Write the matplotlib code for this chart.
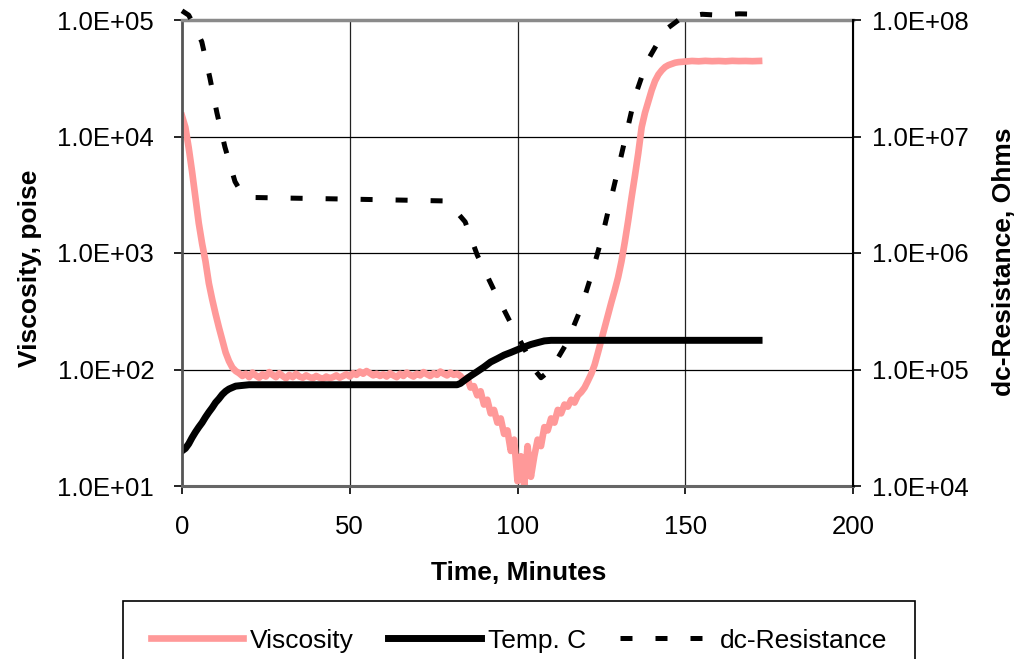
import numpy as np
import matplotlib.pyplot as plt
from matplotlib.ticker import FixedLocator, NullLocator

plt.rcParams['font.family'] = ['Liberation Sans', 'DejaVu Sans']

# --- data ---
visc_t = [0, 1, 2, 3, 4, 5, 6, 7, 8, 9, 10, 11, 12, 13, 14, 15, 16, 17,
          18, 19, 20, 21, 22, 23, 24, 25, 26, 27, 28, 29, 30, 31, 32, 33, 34, 35,
          36, 37, 38, 39, 40, 41, 42, 43, 44, 45, 46, 47, 48, 49, 50, 51, 52, 53,
          54, 55, 56, 57, 58, 59, 60, 61, 62, 63, 64, 65, 66, 67, 68, 69, 70, 71,
          72, 73, 74, 75, 76, 77, 78, 79, 80, 81, 82, 83, 84, 85, 86, 87, 88, 89,
          90, 91, 92, 93, 94, 95, 96, 97, 98, 99, 100, 101, 102, 103, 104, 105,
          106, 107, 108, 109, 110, 111, 112, 113, 114, 115, 116, 117, 118, 119,
          120, 121, 122, 123, 124, 125, 126, 127, 128, 129, 130, 131, 132, 133,
          134, 135, 136, 137, 138, 139, 140, 141, 142, 143, 144, 145, 146, 147,
          148, 150, 152, 154, 156, 158, 160, 162, 164, 166, 168, 170, 172]
visc_v = [15000, 12000, 8000, 5000, 3000, 1800, 1200, 850, 550, 400, 300, 230, 180, 140, 118, 104, 97, 93,
          88, 92, 86, 94, 89, 85, 91, 87, 95, 90, 86, 93, 88, 84, 90, 86, 92, 87,
          85, 89, 86, 84, 88, 85, 83, 87, 84, 86, 89, 85, 88, 91, 87, 93, 90, 96,
          92, 97, 93, 89, 92, 88, 91, 87, 93, 89, 86, 92, 88, 94, 90, 87, 92, 89,
          95, 91, 88, 93, 90, 96, 92, 89, 94, 90, 92, 88, 80, 85, 70, 72, 60, 65,
          50, 55, 42, 45, 35, 38, 28, 30, 20, 25, 11, 18, 10, 22, 12, 18,
          25, 22, 32, 30, 38, 35, 45, 42, 50, 48, 55, 52, 60, 64,
          70, 80, 92, 110, 140, 180, 230, 300, 380, 480, 620, 850, 1250, 1900,
          3000, 4600, 7200, 12000, 16000, 20000, 25000, 30000, 34000, 37000, 39500, 41000, 42000, 43000,
          43500, 44000, 44500, 44200, 44600, 44300, 44500, 44200, 44600, 44400, 44500, 44300, 44500]

temp_t = [0, 1, 2, 3, 4, 5, 6, 7, 8, 9, 10, 11, 12, 13, 14, 15, 16, 18, 20,
          40, 60, 82, 83, 84, 86, 88, 90, 92, 94, 96, 98, 100, 102, 104, 106,
          108, 110, 130, 150, 172]
temp_v = [20, 21, 23, 26, 29, 32, 35, 39, 43, 47, 52, 56, 61, 65, 68, 70, 72, 73, 74,
          74, 74, 74, 76, 80, 88, 96, 105, 116, 124, 133, 140, 148, 156, 164, 170,
          176, 178, 178, 178, 178]

res_t = [0, 2, 4, 5.9, 8.3, 10.4, 12.8, 15.8, 18, 20, 50, 78, 80, 84.4, 88, 92.7,
         97.8, 103, 105, 107, 110, 114.7, 119, 122.2, 125.2, 127.6, 131, 135,
         138.6, 144, 149, 155, 160, 166, 172]
res_v = [1.2e8, 1.1e8, 8.5e7, 6.5e7, 3.2e7, 1.6e7, 8.1e6, 4.1e6, 3.2e6, 3.0e6, 2.9e6, 2.8e6,
         2.6e6, 1.85e6, 9.6e5, 5.0e5, 2.56e5, 1.34e5, 1.0e5, 8.5e4, 1.0e5, 1.69e5, 3.4e5,
         6.7e5, 1.37e6, 2.7e6, 7.0e6, 2.2e7, 4.4e7, 8.2e7, 1.05e8, 1.12e8, 1.1e8, 1.13e8, 1.12e8]

x_ticks = [0, 50, 100, 150, 200]
left_ticks = [1e1, 1e2, 1e3, 1e4, 1e5]
left_labels = ['1.0E+01', '1.0E+02', '1.0E+03', '1.0E+04', '1.0E+05']
right_ticks = [1e4, 1e5, 1e6, 1e7, 1e8]
right_labels = ['1.0E+04', '1.0E+05', '1.0E+06', '1.0E+07', '1.0E+08']

W, H = 1022, 659
fig = plt.figure(figsize=(W / 100, H / 100), dpi=100)
ax = fig.add_axes([182 / W, 1 - 486 / H, (853 - 182) / W, (486 - 20) / H])
ax2 = ax.twinx()

ax.set_xlim(0, 200)
ax.set_yscale('log')
ax.set_ylim(1e1, 1e5)
ax2.set_yscale('log')
ax2.set_ylim(1e4, 1e8)

l1, = ax.plot(visc_t, visc_v, color='#FF9999', lw=4.8, label='Viscosity')
l2, = ax.plot(temp_t, temp_v, color='black', lw=5, label='Temp. C')
l3, = ax2.plot(res_t, res_v, color='black', lw=3.6, linestyle=(0, (2.4, 4.6)),
               dash_capstyle='butt', clip_on=False, label='dc-Resistance')

ax.set_xticks(x_ticks)
ax.set_xticklabels([str(v) for v in x_ticks])
ax.yaxis.set_major_locator(FixedLocator(left_ticks))
ax.set_yticklabels(left_labels)
ax.yaxis.set_minor_locator(NullLocator())
ax2.yaxis.set_major_locator(FixedLocator(right_ticks))
ax2.set_yticklabels(right_labels)
ax2.yaxis.set_minor_locator(NullLocator())

for a in (ax, ax2):
    a.tick_params(axis='both', which='major', labelsize=18.5, direction='out',
                  length=6, width=1.2, color='black')
ax.tick_params(axis='y', pad=14)
ax.tick_params(axis='x', pad=15)
ax2.tick_params(axis='y', pad=8)

for v in [50, 100, 150]:
    ax.axvline(v, color='#222222', lw=0.9, zorder=0.5)
for v in [1e2, 1e3, 1e4]:
    ax.axhline(v, color='black', lw=0.9, zorder=0.5)

ax.spines['top'].set_color('#8a8a8a')
ax.spines['top'].set_linewidth(2.5)
ax.spines['bottom'].set_color('#666666')
ax.spines['bottom'].set_linewidth(2.2)
ax.spines['left'].set_color('#555555')
ax.spines['left'].set_linewidth(2)
ax2.spines['top'].set_visible(False)
ax2.spines['bottom'].set_visible(False)
ax2.spines['left'].set_visible(False)
ax2.spines['right'].set_color('black')
ax2.spines['right'].set_linewidth(1.5)

fig.text(519 / W, 1 - 573 / H, 'Time, Minutes', fontsize=19, fontweight='bold',
         ha='center', va='center')
fig.text(30 / W, 1 - 268 / H, 'Viscosity, poise', fontsize=19, fontweight='bold',
         ha='center', va='center', rotation=90)
fig.text(1004 / W, 1 - 262 / H, 'dc-Resistance, Ohms', fontsize=19, fontweight='bold',
         ha='center', va='center', rotation=90)

leg = fig.legend(handles=[l1, l2, l3], loc='upper center', bbox_to_anchor=(519 / W, 1 - 601 / H),
                 ncol=3, fontsize=19, frameon=True, fancybox=False, framealpha=1,
                 edgecolor='black', handlelength=3.5, handletextpad=0.27, columnspacing=1.3,
                 borderpad=1.05, borderaxespad=0)
leg.get_frame().set_linewidth(1.2)

fig.savefig('out.png', dpi=100)
